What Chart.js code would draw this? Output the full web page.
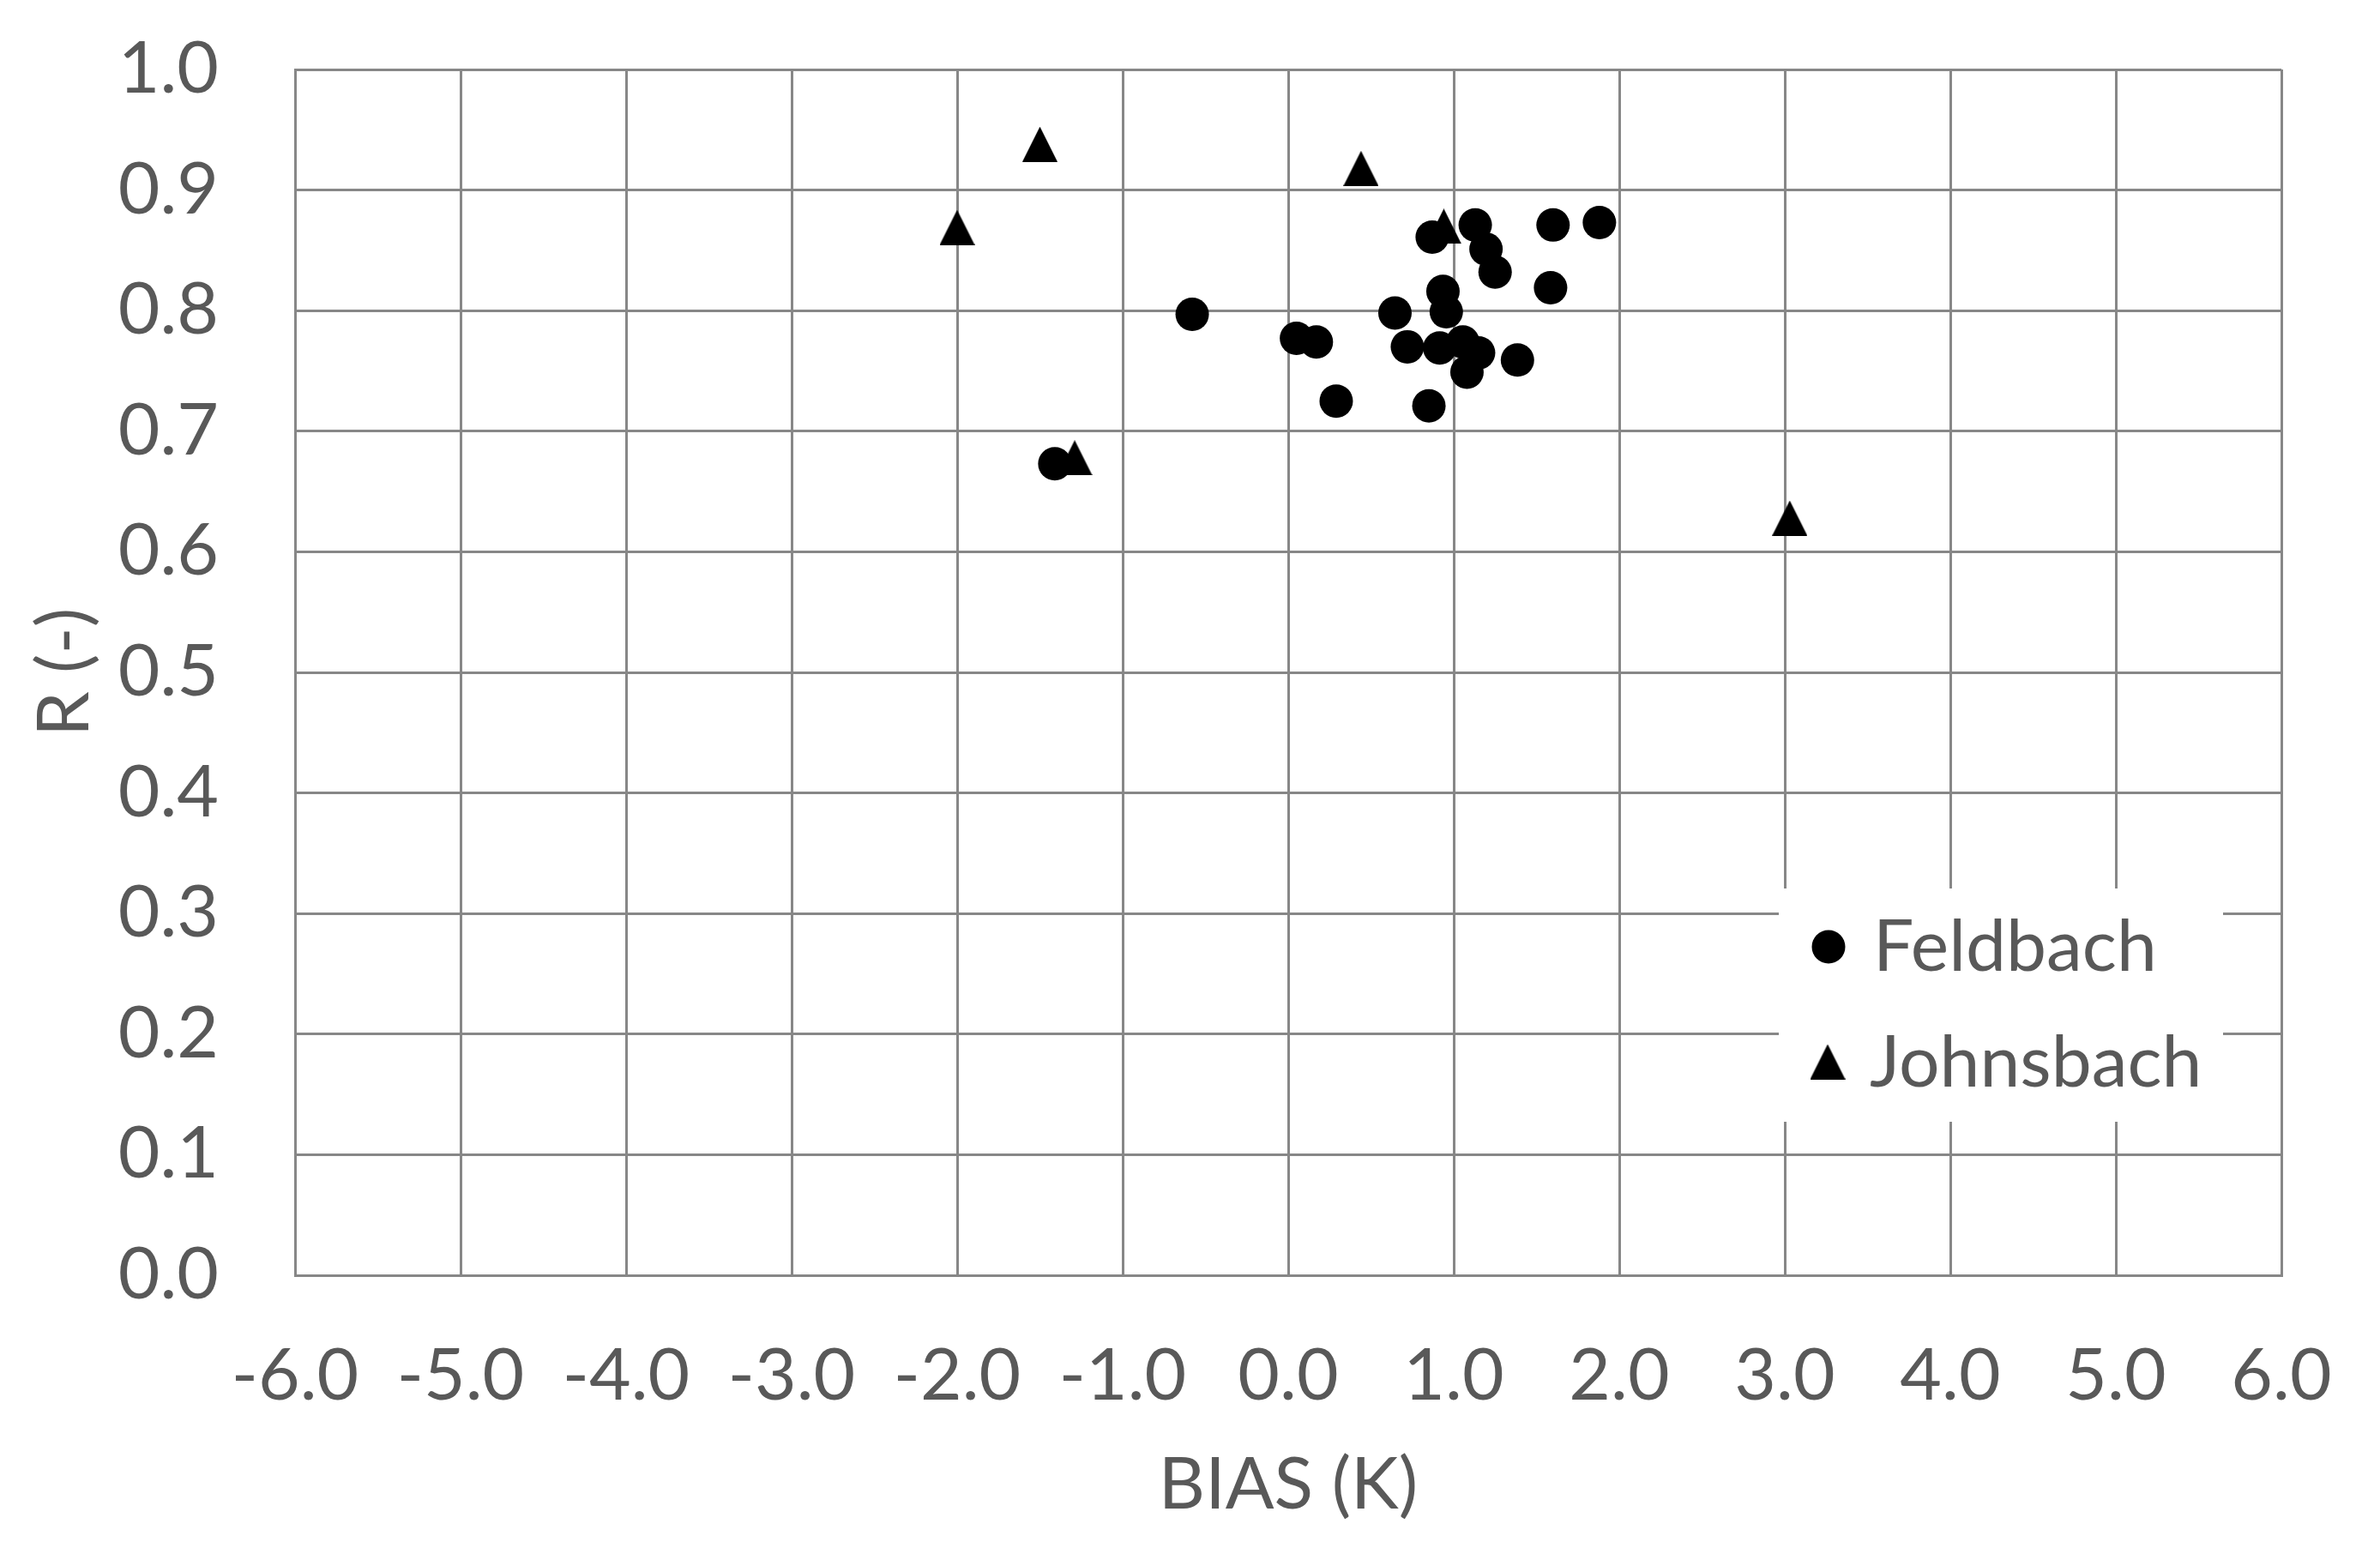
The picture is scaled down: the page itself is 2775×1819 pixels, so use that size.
<!DOCTYPE html>
<html>
<head>
<meta charset="utf-8">
<script src="https://cdn.jsdelivr.net/npm/chart.js@4.4.0/dist/chart.umd.min.js"></script>
<style>
html,body{margin:0;padding:0;background:#ffffff;}
canvas{display:block;}
</style>
</head>
<body>
<canvas id="chart" width="2775" height="1819"></canvas>
<script>
// ---- data ----
const seriesNames = ['Feldbach', 'Johnsbach'];

const feldbachBias = [-0.58, 0.05, 0.17, 0.29, 0.645, 0.72, 0.85, 0.87, 0.935, 0.955, 0.915, 1.055, 1.15, 1.08, 1.13, 1.195, 1.25, 1.60, 1.88, 1.585, 1.385, -1.41];
const feldbachR    = [0.797, 0.777, 0.774, 0.725, 0.798, 0.770, 0.721, 0.861, 0.816, 0.799, 0.769, 0.774, 0.765, 0.749, 0.871, 0.851, 0.832, 0.871, 0.873, 0.819, 0.759, 0.673];

const johnsbachBias = [-2.00, -1.50, 0.44, 0.94, -1.29, 3.03];
const johnsbachR    = [0.869, 0.938, 0.918, 0.870, 0.678, 0.628];

const xTicks = [-6, -5, -4, -3, -2, -1, 0, 1, 2, 3, 4, 5, 6];
const xTickLabels = ['-6.0', '-5.0', '-4.0', '-3.0', '-2.0', '-1.0', '0.0', '1.0', '2.0', '3.0', '4.0', '5.0', '6.0'];
const yTicks = [0, 0.1, 0.2, 0.3, 0.4, 0.5, 0.6, 0.7, 0.8, 0.9, 1.0];
const yTickLabels = ['0.0', '0.1', '0.2', '0.3', '0.4', '0.5', '0.6', '0.7', '0.8', '0.9', '1.0'];

const xTitle = 'BIAS (K)';
const yTitle = 'R (-)';

// ---- styling ----
const FONT = 'Lato';
const FS = 84;
const TEXT = '#595959';
const GRID = '#878787';

function makeTriangle(w, h) {
  const c = document.createElement('canvas');
  c.width = w; c.height = h;
  const g = c.getContext('2d');
  g.fillStyle = '#000000';
  g.beginPath();
  g.moveTo(w / 2, 0);
  g.lineTo(w, h);
  g.lineTo(0, h);
  g.closePath();
  g.fill();
  return c;
}
const triImg = makeTriangle(41, 41);

const toPoints = (xs, ys) => xs.map((x, i) => ({x: x, y: ys[i]}));

function zeroPad(s) {
  s.paddingTop = 0; s.paddingBottom = 0; s.paddingLeft = 0; s.paddingRight = 0;
}

const legendPlugin = {
  id: 'boxLegend',
  afterDatasetsDraw(chart) {
    const ctx = chart.ctx;
    ctx.save();
    ctx.fillStyle = '#ffffff';
    ctx.fillRect(2074, 1036, 518, 272);
    // Feldbach marker
    ctx.fillStyle = '#000000';
    ctx.beginPath();
    ctx.arc(2132, 1104, 19.5, 0, Math.PI * 2);
    ctx.fill();
    // Johnsbach marker
    ctx.drawImage(triImg, 2131 - 20.5, 1238 - 20.5);
    ctx.fillStyle = TEXT;
    ctx.font = FS + 'px ' + FONT;
    ctx.textAlign = 'left';
    ctx.textBaseline = 'alphabetic';
    ctx.fillText(chart.data.datasets[0].label, 2184, 1132);
    ctx.fillText(chart.data.datasets[1].label, 2180, 1267);
    ctx.restore();
  }
};

function draw() {
  const ctx = document.getElementById('chart').getContext('2d');
  new Chart(ctx, {
    type: 'scatter',
    data: {
      datasets: [
        {
          label: seriesNames[0],
          data: toPoints(feldbachBias, feldbachR),
          pointStyle: 'circle',
          pointRadius: 19.5,
          pointHoverRadius: 19.5,
          backgroundColor: '#000000',
          borderWidth: 0
        },
        {
          label: seriesNames[1],
          data: toPoints(johnsbachBias, johnsbachR),
          pointStyle: triImg,
          pointRadius: 20,
          backgroundColor: '#000000',
          borderWidth: 0
        }
      ]
    },
    options: {
      responsive: false,
      animation: false,
      devicePixelRatio: 1,
      layout: {padding: {top: 81, right: 115, left: 0, bottom: 0}},
      plugins: {
        legend: {display: false},
        tooltip: {enabled: false}
      },
      scales: {
        x: {
          type: 'linear',
          min: -6, max: 6,
          afterBuildTicks: s => { s.ticks = xTicks.map(v => ({value: v})); },
          afterFit: s => { s.height = 332; zeroPad(s); },
          grid: {color: GRID, lineWidth: 3, drawTicks: false},
          border: {color: GRID, width: 3},
          ticks: {
            color: TEXT,
            font: {family: FONT, size: FS, lineHeight: 1.2},
            padding: 68,
            maxRotation: 0,
            autoSkip: false,
            callback: (v, i) => xTickLabels[i]
          },
          title: {
            display: true, text: xTitle, color: TEXT,
            font: {family: FONT, size: FS, lineHeight: 1},
            padding: {top: 0, bottom: 45}
          }
        },
        y: {
          type: 'linear',
          min: 0, max: 1,
          afterBuildTicks: s => { s.ticks = yTicks.map(v => ({value: v})); },
          afterFit: s => { s.width = 344; zeroPad(s); },
          grid: {color: GRID, lineWidth: 3, drawTicks: false},
          border: {color: GRID, width: 3},
          ticks: {
            color: TEXT,
            font: {family: FONT, size: FS, lineHeight: 1.2},
            padding: 89,
            autoSkip: false,
            callback: (v, i) => yTickLabels[i]
          },
          title: {
            display: true, text: yTitle, color: TEXT,
            font: {family: FONT, size: FS, lineHeight: 1},
            padding: {top: 34, bottom: 0}
          }
        }
      }
    },
    plugins: [legendPlugin]
  });
}

if (document.fonts && document.fonts.load) {
  document.fonts.load(FS + 'px ' + FONT).then(draw, draw);
} else {
  draw();
}
</script>
</body>
</html>
